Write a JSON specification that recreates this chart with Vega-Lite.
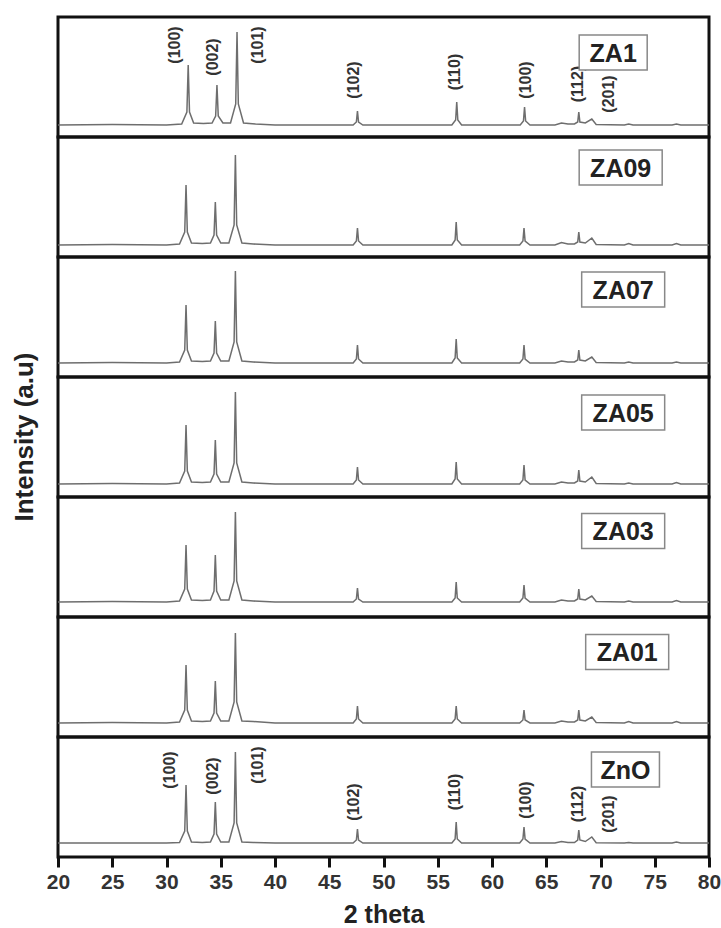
{
"$schema":"https://vega.github.io/schema/vega-lite/v6.json",
"padding":{"left":11,"top":15,"right":5,"bottom":0},
"bounds":"flush",
"config":{"font":"Liberation Sans","view":{"stroke":"#111","strokeWidth":3}},
"data":{"values":[
{"s":"ZA1","x":20,"y":12},{"s":"ZA1","x":25,"y":12.5},{"s":"ZA1","x":30,"y":12},{"s":"ZA1","x":31.4,"y":13},{"s":"ZA1","x":31.88,"y":25},{"s":"ZA1","x":32.0,"y":72},{"s":"ZA1","x":32.12,"y":25},{"s":"ZA1","x":32.5,"y":14},{"s":"ZA1","x":33.4,"y":13.5},{"s":"ZA1","x":34.2,"y":14},{"s":"ZA1","x":34.53,"y":21},{"s":"ZA1","x":34.65,"y":52},{"s":"ZA1","x":34.77,"y":21},{"s":"ZA1","x":35.2,"y":14},{"s":"ZA1","x":35.9,"y":14},{"s":"ZA1","x":36.38,"y":33},{"s":"ZA1","x":36.5,"y":105},{"s":"ZA1","x":36.62,"y":33},{"s":"ZA1","x":37.1,"y":14},{"s":"ZA1","x":38.2,"y":13},{"s":"ZA1","x":40,"y":12},{"s":"ZA1","x":45,"y":12},{"s":"ZA1","x":47.2,"y":12},{"s":"ZA1","x":47.5,"y":15},{"s":"ZA1","x":47.6,"y":26},{"s":"ZA1","x":47.7,"y":15},{"s":"ZA1","x":48.1,"y":12},{"s":"ZA1","x":52,"y":12},{"s":"ZA1","x":56.3,"y":12},{"s":"ZA1","x":56.65,"y":17},{"s":"ZA1","x":56.75,"y":35},{"s":"ZA1","x":56.85,"y":17},{"s":"ZA1","x":57.2,"y":12},{"s":"ZA1","x":60,"y":12},{"s":"ZA1","x":62.6,"y":12},{"s":"ZA1","x":62.9,"y":16},{"s":"ZA1","x":63.0,"y":30},{"s":"ZA1","x":63.1,"y":16},{"s":"ZA1","x":63.5,"y":12},{"s":"ZA1","x":65.8,"y":12},{"s":"ZA1","x":66.4,"y":14},{"s":"ZA1","x":67.0,"y":13},{"s":"ZA1","x":67.6,"y":13},{"s":"ZA1","x":67.9,"y":15},{"s":"ZA1","x":68.0,"y":25},{"s":"ZA1","x":68.1,"y":15},{"s":"ZA1","x":68.6,"y":14},{"s":"ZA1","x":69.2,"y":18},{"s":"ZA1","x":69.6,"y":12.5},{"s":"ZA1","x":72.2,"y":12},{"s":"ZA1","x":72.6,"y":13},{"s":"ZA1","x":73,"y":12},{"s":"ZA1","x":76.6,"y":12},{"s":"ZA1","x":77,"y":13},{"s":"ZA1","x":77.4,"y":12},{"s":"ZA1","x":80,"y":12},

{"s":"ZA09","x":20,"y":12},{"s":"ZA09","x":25,"y":12.5},{"s":"ZA09","x":30,"y":12},{"s":"ZA09","x":31.2,"y":13},{"s":"ZA09","x":31.68,"y":25},{"s":"ZA09","x":31.8,"y":72},{"s":"ZA09","x":31.92,"y":25},{"s":"ZA09","x":32.3,"y":14},{"s":"ZA09","x":33.3,"y":13.5},{"s":"ZA09","x":34.05,"y":14},{"s":"ZA09","x":34.38,"y":22},{"s":"ZA09","x":34.5,"y":55},{"s":"ZA09","x":34.62,"y":22},{"s":"ZA09","x":35.0,"y":14},{"s":"ZA09","x":35.75,"y":14},{"s":"ZA09","x":36.23,"y":32},{"s":"ZA09","x":36.35,"y":102},{"s":"ZA09","x":36.47,"y":32},{"s":"ZA09","x":36.95,"y":14},{"s":"ZA09","x":38.0,"y":13},{"s":"ZA09","x":40,"y":12},{"s":"ZA09","x":45,"y":12},{"s":"ZA09","x":47.2,"y":12},{"s":"ZA09","x":47.5,"y":16},{"s":"ZA09","x":47.6,"y":29},{"s":"ZA09","x":47.7,"y":16},{"s":"ZA09","x":48.1,"y":12},{"s":"ZA09","x":52,"y":12},{"s":"ZA09","x":56.3,"y":12},{"s":"ZA09","x":56.6,"y":17},{"s":"ZA09","x":56.7,"y":35},{"s":"ZA09","x":56.8,"y":17},{"s":"ZA09","x":57.2,"y":12},{"s":"ZA09","x":60,"y":12},{"s":"ZA09","x":62.55,"y":12},{"s":"ZA09","x":62.85,"y":16},{"s":"ZA09","x":62.95,"y":29},{"s":"ZA09","x":63.05,"y":16},{"s":"ZA09","x":63.5,"y":12},{"s":"ZA09","x":65.8,"y":12},{"s":"ZA09","x":66.4,"y":14.5},{"s":"ZA09","x":67.0,"y":13},{"s":"ZA09","x":67.6,"y":13},{"s":"ZA09","x":67.9,"y":15},{"s":"ZA09","x":68.0,"y":25},{"s":"ZA09","x":68.1,"y":15},{"s":"ZA09","x":68.6,"y":14},{"s":"ZA09","x":69.2,"y":19},{"s":"ZA09","x":69.6,"y":12.5},{"s":"ZA09","x":72.2,"y":12},{"s":"ZA09","x":72.6,"y":13.5},{"s":"ZA09","x":73,"y":12},{"s":"ZA09","x":76.6,"y":12},{"s":"ZA09","x":77,"y":13.5},{"s":"ZA09","x":77.4,"y":12},{"s":"ZA09","x":80,"y":12},

{"s":"ZA07","x":20,"y":14},{"s":"ZA07","x":25,"y":14.5},{"s":"ZA07","x":30,"y":14},{"s":"ZA07","x":31.2,"y":15},{"s":"ZA07","x":31.68,"y":27},{"s":"ZA07","x":31.8,"y":72},{"s":"ZA07","x":31.92,"y":27},{"s":"ZA07","x":32.3,"y":16},{"s":"ZA07","x":33.3,"y":15.5},{"s":"ZA07","x":34.05,"y":16},{"s":"ZA07","x":34.38,"y":24},{"s":"ZA07","x":34.5,"y":56},{"s":"ZA07","x":34.62,"y":24},{"s":"ZA07","x":35.0,"y":16},{"s":"ZA07","x":35.75,"y":16},{"s":"ZA07","x":36.23,"y":35},{"s":"ZA07","x":36.35,"y":106},{"s":"ZA07","x":36.47,"y":35},{"s":"ZA07","x":36.95,"y":16},{"s":"ZA07","x":38.0,"y":15},{"s":"ZA07","x":40,"y":14},{"s":"ZA07","x":45,"y":14},{"s":"ZA07","x":47.2,"y":14},{"s":"ZA07","x":47.5,"y":18},{"s":"ZA07","x":47.6,"y":32},{"s":"ZA07","x":47.7,"y":18},{"s":"ZA07","x":48.1,"y":14},{"s":"ZA07","x":52,"y":14},{"s":"ZA07","x":56.3,"y":14},{"s":"ZA07","x":56.6,"y":19},{"s":"ZA07","x":56.7,"y":38},{"s":"ZA07","x":56.8,"y":19},{"s":"ZA07","x":57.2,"y":14},{"s":"ZA07","x":60,"y":14},{"s":"ZA07","x":62.55,"y":14},{"s":"ZA07","x":62.85,"y":18},{"s":"ZA07","x":62.95,"y":32},{"s":"ZA07","x":63.05,"y":18},{"s":"ZA07","x":63.5,"y":14},{"s":"ZA07","x":65.8,"y":14},{"s":"ZA07","x":66.4,"y":16},{"s":"ZA07","x":67.0,"y":15},{"s":"ZA07","x":67.6,"y":15},{"s":"ZA07","x":67.9,"y":17},{"s":"ZA07","x":68.0,"y":27},{"s":"ZA07","x":68.1,"y":17},{"s":"ZA07","x":68.6,"y":16},{"s":"ZA07","x":69.2,"y":20},{"s":"ZA07","x":69.6,"y":14.5},{"s":"ZA07","x":72.2,"y":14},{"s":"ZA07","x":72.6,"y":15},{"s":"ZA07","x":73,"y":14},{"s":"ZA07","x":76.6,"y":14},{"s":"ZA07","x":77,"y":15},{"s":"ZA07","x":77.4,"y":14},{"s":"ZA07","x":80,"y":14},

{"s":"ZA05","x":20,"y":13},{"s":"ZA05","x":25,"y":13.5},{"s":"ZA05","x":30,"y":13},{"s":"ZA05","x":31.2,"y":14},{"s":"ZA05","x":31.68,"y":26},{"s":"ZA05","x":31.8,"y":72},{"s":"ZA05","x":31.92,"y":26},{"s":"ZA05","x":32.3,"y":15},{"s":"ZA05","x":33.3,"y":14.5},{"s":"ZA05","x":34.05,"y":15},{"s":"ZA05","x":34.38,"y":23},{"s":"ZA05","x":34.5,"y":57},{"s":"ZA05","x":34.62,"y":23},{"s":"ZA05","x":35.0,"y":15},{"s":"ZA05","x":35.75,"y":15},{"s":"ZA05","x":36.23,"y":34},{"s":"ZA05","x":36.35,"y":105},{"s":"ZA05","x":36.47,"y":34},{"s":"ZA05","x":36.95,"y":15},{"s":"ZA05","x":38.0,"y":14},{"s":"ZA05","x":40,"y":13},{"s":"ZA05","x":45,"y":13},{"s":"ZA05","x":47.2,"y":13},{"s":"ZA05","x":47.5,"y":17},{"s":"ZA05","x":47.6,"y":30},{"s":"ZA05","x":47.7,"y":17},{"s":"ZA05","x":48.1,"y":13},{"s":"ZA05","x":52,"y":13},{"s":"ZA05","x":56.3,"y":13},{"s":"ZA05","x":56.6,"y":18},{"s":"ZA05","x":56.7,"y":35},{"s":"ZA05","x":56.8,"y":18},{"s":"ZA05","x":57.2,"y":13},{"s":"ZA05","x":60,"y":13},{"s":"ZA05","x":62.55,"y":13},{"s":"ZA05","x":62.85,"y":17},{"s":"ZA05","x":62.95,"y":32},{"s":"ZA05","x":63.05,"y":17},{"s":"ZA05","x":63.5,"y":13},{"s":"ZA05","x":65.8,"y":13},{"s":"ZA05","x":66.4,"y":15},{"s":"ZA05","x":67.0,"y":14},{"s":"ZA05","x":67.6,"y":14},{"s":"ZA05","x":67.9,"y":16},{"s":"ZA05","x":68.0,"y":27},{"s":"ZA05","x":68.1,"y":16},{"s":"ZA05","x":68.6,"y":15},{"s":"ZA05","x":69.2,"y":20},{"s":"ZA05","x":69.6,"y":13.5},{"s":"ZA05","x":72.2,"y":13},{"s":"ZA05","x":72.6,"y":14},{"s":"ZA05","x":73,"y":13},{"s":"ZA05","x":76.6,"y":13},{"s":"ZA05","x":77,"y":14.5},{"s":"ZA05","x":77.4,"y":13},{"s":"ZA05","x":80,"y":13},

{"s":"ZA03","x":20,"y":15},{"s":"ZA03","x":25,"y":15.5},{"s":"ZA03","x":30,"y":15},{"s":"ZA03","x":31.2,"y":16},{"s":"ZA03","x":31.68,"y":28},{"s":"ZA03","x":31.8,"y":72},{"s":"ZA03","x":31.92,"y":28},{"s":"ZA03","x":32.3,"y":17},{"s":"ZA03","x":33.3,"y":16.5},{"s":"ZA03","x":34.05,"y":17},{"s":"ZA03","x":34.38,"y":26},{"s":"ZA03","x":34.5,"y":62},{"s":"ZA03","x":34.62,"y":26},{"s":"ZA03","x":35.0,"y":17},{"s":"ZA03","x":35.75,"y":17},{"s":"ZA03","x":36.23,"y":36},{"s":"ZA03","x":36.35,"y":105},{"s":"ZA03","x":36.47,"y":36},{"s":"ZA03","x":36.95,"y":17},{"s":"ZA03","x":38.0,"y":16},{"s":"ZA03","x":40,"y":15},{"s":"ZA03","x":45,"y":15},{"s":"ZA03","x":47.2,"y":15},{"s":"ZA03","x":47.5,"y":18},{"s":"ZA03","x":47.6,"y":29},{"s":"ZA03","x":47.7,"y":18},{"s":"ZA03","x":48.1,"y":15},{"s":"ZA03","x":52,"y":15},{"s":"ZA03","x":56.3,"y":15},{"s":"ZA03","x":56.6,"y":19},{"s":"ZA03","x":56.7,"y":35},{"s":"ZA03","x":56.8,"y":19},{"s":"ZA03","x":57.2,"y":15},{"s":"ZA03","x":60,"y":15},{"s":"ZA03","x":62.55,"y":15},{"s":"ZA03","x":62.85,"y":19},{"s":"ZA03","x":62.95,"y":32},{"s":"ZA03","x":63.05,"y":19},{"s":"ZA03","x":63.5,"y":15},{"s":"ZA03","x":65.8,"y":15},{"s":"ZA03","x":66.4,"y":17},{"s":"ZA03","x":67.0,"y":16},{"s":"ZA03","x":67.6,"y":16},{"s":"ZA03","x":67.9,"y":18},{"s":"ZA03","x":68.0,"y":28},{"s":"ZA03","x":68.1,"y":18},{"s":"ZA03","x":68.6,"y":17},{"s":"ZA03","x":69.2,"y":21},{"s":"ZA03","x":69.6,"y":15.5},{"s":"ZA03","x":72.2,"y":15},{"s":"ZA03","x":72.6,"y":16},{"s":"ZA03","x":73,"y":15},{"s":"ZA03","x":76.6,"y":15},{"s":"ZA03","x":77,"y":16.5},{"s":"ZA03","x":77.4,"y":15},{"s":"ZA03","x":80,"y":15},

{"s":"ZA01","x":20,"y":14},{"s":"ZA01","x":25,"y":14.5},{"s":"ZA01","x":30,"y":14},{"s":"ZA01","x":31.2,"y":15},{"s":"ZA01","x":31.68,"y":27},{"s":"ZA01","x":31.8,"y":72},{"s":"ZA01","x":31.92,"y":27},{"s":"ZA01","x":32.3,"y":16},{"s":"ZA01","x":33.3,"y":15.5},{"s":"ZA01","x":34.05,"y":16},{"s":"ZA01","x":34.38,"y":24},{"s":"ZA01","x":34.5,"y":56},{"s":"ZA01","x":34.62,"y":24},{"s":"ZA01","x":35.0,"y":16},{"s":"ZA01","x":35.75,"y":16},{"s":"ZA01","x":36.23,"y":35},{"s":"ZA01","x":36.35,"y":104},{"s":"ZA01","x":36.47,"y":35},{"s":"ZA01","x":36.95,"y":16},{"s":"ZA01","x":38.0,"y":15.5},{"s":"ZA01","x":40,"y":14},{"s":"ZA01","x":45,"y":14},{"s":"ZA01","x":47.2,"y":14},{"s":"ZA01","x":47.5,"y":18},{"s":"ZA01","x":47.6,"y":31},{"s":"ZA01","x":47.7,"y":18},{"s":"ZA01","x":48.1,"y":14},{"s":"ZA01","x":52,"y":14},{"s":"ZA01","x":56.3,"y":14},{"s":"ZA01","x":56.6,"y":18},{"s":"ZA01","x":56.7,"y":31},{"s":"ZA01","x":56.8,"y":18},{"s":"ZA01","x":57.2,"y":14},{"s":"ZA01","x":60,"y":14},{"s":"ZA01","x":62.55,"y":14},{"s":"ZA01","x":62.85,"y":17},{"s":"ZA01","x":62.95,"y":27},{"s":"ZA01","x":63.05,"y":17},{"s":"ZA01","x":63.5,"y":14},{"s":"ZA01","x":65.8,"y":14},{"s":"ZA01","x":66.4,"y":16},{"s":"ZA01","x":67.0,"y":15},{"s":"ZA01","x":67.6,"y":15},{"s":"ZA01","x":67.9,"y":17},{"s":"ZA01","x":68.0,"y":27},{"s":"ZA01","x":68.1,"y":17},{"s":"ZA01","x":68.6,"y":16},{"s":"ZA01","x":69.2,"y":20},{"s":"ZA01","x":69.6,"y":14.5},{"s":"ZA01","x":72.2,"y":14},{"s":"ZA01","x":72.6,"y":15.5},{"s":"ZA01","x":73,"y":14},{"s":"ZA01","x":76.6,"y":14},{"s":"ZA01","x":77,"y":15.5},{"s":"ZA01","x":77.4,"y":14},{"s":"ZA01","x":80,"y":14},

{"s":"ZnO","x":20,"y":14},{"s":"ZnO","x":25,"y":14},{"s":"ZnO","x":30,"y":14},{"s":"ZnO","x":31.2,"y":14.5},{"s":"ZnO","x":31.68,"y":26},{"s":"ZnO","x":31.8,"y":72},{"s":"ZnO","x":31.92,"y":26},{"s":"ZnO","x":32.3,"y":15},{"s":"ZnO","x":33.3,"y":14.5},{"s":"ZnO","x":34.05,"y":15},{"s":"ZnO","x":34.38,"y":23},{"s":"ZnO","x":34.5,"y":55},{"s":"ZnO","x":34.62,"y":23},{"s":"ZnO","x":35.0,"y":15},{"s":"ZnO","x":35.75,"y":15},{"s":"ZnO","x":36.23,"y":34},{"s":"ZnO","x":36.35,"y":105},{"s":"ZnO","x":36.47,"y":34},{"s":"ZnO","x":36.95,"y":15},{"s":"ZnO","x":38.0,"y":14.5},{"s":"ZnO","x":40,"y":14},{"s":"ZnO","x":45,"y":14},{"s":"ZnO","x":47.2,"y":14},{"s":"ZnO","x":47.5,"y":17},{"s":"ZnO","x":47.6,"y":28},{"s":"ZnO","x":47.7,"y":17},{"s":"ZnO","x":48.1,"y":14},{"s":"ZnO","x":52,"y":14},{"s":"ZnO","x":56.3,"y":14},{"s":"ZnO","x":56.6,"y":18},{"s":"ZnO","x":56.7,"y":35},{"s":"ZnO","x":56.8,"y":18},{"s":"ZnO","x":57.2,"y":14},{"s":"ZnO","x":60,"y":14},{"s":"ZnO","x":62.55,"y":14},{"s":"ZnO","x":62.85,"y":18},{"s":"ZnO","x":62.95,"y":30},{"s":"ZnO","x":63.05,"y":18},{"s":"ZnO","x":63.5,"y":14},{"s":"ZnO","x":65.8,"y":14},{"s":"ZnO","x":66.4,"y":15.5},{"s":"ZnO","x":67.0,"y":14.5},{"s":"ZnO","x":67.6,"y":14.5},{"s":"ZnO","x":67.9,"y":17},{"s":"ZnO","x":68.0,"y":27},{"s":"ZnO","x":68.1,"y":17},{"s":"ZnO","x":68.6,"y":15.5},{"s":"ZnO","x":69.2,"y":20},{"s":"ZnO","x":69.6,"y":14.3},{"s":"ZnO","x":72.2,"y":14},{"s":"ZnO","x":72.6,"y":14.5},{"s":"ZnO","x":73,"y":14},{"s":"ZnO","x":76.6,"y":14},{"s":"ZnO","x":77,"y":15},{"s":"ZnO","x":77.4,"y":14},{"s":"ZnO","x":80,"y":14},

{"s":"ZA1","k":"h","x":30.75,"y":92,"t":"(100)"},{"s":"ZA1","k":"h","x":34.3,"y":80,"t":"(002)"},{"s":"ZA1","k":"h","x":38.4,"y":92,"t":"(101)"},{"s":"ZA1","k":"h","x":47.3,"y":57,"t":"(102)"},{"s":"ZA1","k":"h","x":56.6,"y":65,"t":"(110)"},{"s":"ZA1","k":"h","x":63.15,"y":57,"t":"(100)"},{"s":"ZA1","k":"h","x":67.9,"y":53,"t":"(112)"},{"s":"ZA1","k":"h","x":70.8,"y":43,"t":"(201)"},
{"s":"ZnO","k":"h","x":30.3,"y":87,"t":"(100)"},{"s":"ZnO","k":"h","x":34.3,"y":81,"t":"(002)"},{"s":"ZnO","k":"h","x":38.4,"y":92,"t":"(101)"},{"s":"ZnO","k":"h","x":47.3,"y":55,"t":"(102)"},{"s":"ZnO","k":"h","x":56.6,"y":65,"t":"(110)"},{"s":"ZnO","k":"h","x":63.1,"y":57,"t":"(100)"},{"s":"ZnO","k":"h","x":67.9,"y":53,"t":"(112)"},{"s":"ZnO","k":"h","x":70.8,"y":43,"t":"(201)"},

{"s":"ZA1","k":"n","x":71.17,"y":84.5,"t":"ZA1"},{"s":"ZA09","k":"n","x":71.86,"y":89.5,"t":"ZA09"},{"s":"ZA07","k":"n","x":72.09,"y":87.5,"t":"ZA07"},{"s":"ZA05","k":"n","x":72.09,"y":84.5,"t":"ZA05"},{"s":"ZA03","k":"n","x":72.09,"y":86,"t":"ZA03"},{"s":"ZA01","k":"n","x":72.46,"y":85,"t":"ZA01"},{"s":"ZnO","k":"n","x":72.3,"y":87.5,"t":"ZnO"}
]},
"facet":{"row":{"field":"s","type":"nominal","sort":["ZA1","ZA09","ZA07","ZA05","ZA03","ZA01","ZnO"],"title":"Intensity (a.u)","header":{"labels":false,"titleFontSize":26,"titleFontWeight":"bold","titleFont":"Liberation Sans","titleColor":"#222","titleOrient":"left","titlePadding":10}}},
"spacing":{"row":0},
"spec":{
"width":651,"height":120,
"layer":[
{"transform":[{"filter":"!datum.k"}],
"mark":{"type":"line","color":"#6e6e6e","strokeWidth":1.5},
"encoding":{
"x":{"field":"x","type":"quantitative","scale":{"domain":[20,80],"nice":false,"zero":false},
"axis":{"values":[20,22.5,25,27.5,30,32.5,35,37.5,40,42.5,45,47.5,50,52.5,55,57.5,60,62.5,65,67.5,70,72.5,75,77.5,80],"labelExpr":"datum.value % 5 === 0 ? datum.label : ''","labelOverlap":false,"labelFlush":false,"labelBound":false,"domain":false,"grid":false,"tickSize":10,"tickWidth":3,"tickColor":"#111","labelFontSize":21,"labelFontWeight":"bold","labelColor":"#333","labelPadding":4,"title":"2 theta","titleFontSize":25,"titleFontWeight":"bold","titleColor":"#222","titlePadding":10,"encode":{"ticks":{"update":{"y2":{"signal":"datum.value % 5 === 0 ? 10 : 6"}}}}}},
"y":{"field":"y","type":"quantitative","scale":{"domain":[0,120],"nice":false,"zero":false},"axis":null}}},
{"transform":[{"filter":"datum.k == 'h'"}],
"mark":{"type":"text","angle":270,"align":"center","baseline":"middle","fontSize":16,"fontWeight":"bold","color":"#333"},
"encoding":{"x":{"field":"x","type":"quantitative"},"y":{"field":"y","type":"quantitative"},"text":{"field":"t"}}},
{"transform":[{"filter":"datum.k == 'n' && length(datum.t) == 3"}],
"mark":{"type":"rect","width":68,"height":35,"fill":"white","stroke":"#888","strokeWidth":1.5},
"encoding":{"x":{"field":"x","type":"quantitative"},"y":{"field":"y","type":"quantitative"}}},
{"transform":[{"filter":"datum.k == 'n' && length(datum.t) == 4"}],
"mark":{"type":"rect","width":83,"height":35,"fill":"white","stroke":"#888","strokeWidth":1.5},
"encoding":{"x":{"field":"x","type":"quantitative"},"y":{"field":"y","type":"quantitative"}}},
{"transform":[{"filter":"datum.k == 'n'"}],
"mark":{"type":"text","align":"center","baseline":"middle","fontSize":25,"fontWeight":"bold","color":"#222","dy":1},
"encoding":{"x":{"field":"x","type":"quantitative"},"y":{"field":"y","type":"quantitative"},"text":{"field":"t"}}}
]}
}
